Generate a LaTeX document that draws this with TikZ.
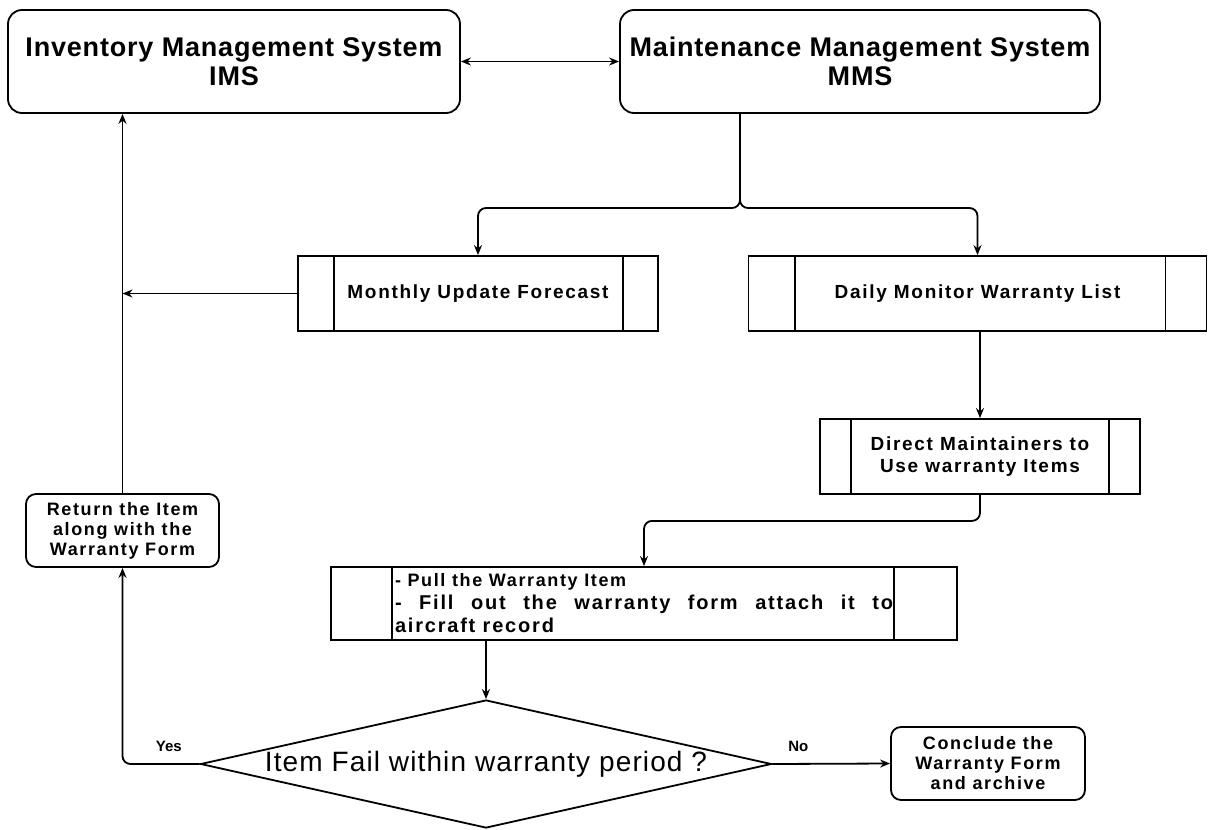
\documentclass[tikz,border=0pt]{standalone}
\usepackage{fontspec}
\setmainfont{Liberation Sans}
\newfontfamily\titlefont[LetterSpace=3]{Liberation Sans}
\newfontfamily\boxfont[LetterSpace=9]{Liberation Sans}
\newfontfamily\askfont[LetterSpace=4]{Liberation Sans}
\usetikzlibrary{shapes.geometric,arrows.meta}

% the two inner bars of a process box
\newcommand{\sidebars}[3]{%
  \draw ([xshift=#2]#1.north west) -- ([xshift=#2]#1.south west);
  \draw ([xshift=-#3]#1.north east) -- ([xshift=-#3]#1.south east);
}

\begin{document}
\begin{tikzpicture}[x=1pt,y=-1pt,line width=1.8pt,
    sysbox/.style={draw,rounded corners=14pt,minimum height=103pt,inner sep=0pt,align=center,
      font=\titlefont\fontsize{27}{29}\selectfont\bfseries},
    procbox/.style={draw,minimum height=75pt,inner sep=0pt,align=center,
      font=\boxfont\fontsize{19}{22}\selectfont\bfseries},
    termbox/.style={draw,rounded corners=10pt,minimum width=194pt,minimum height=73pt,inner sep=0pt,align=center,
      font=\boxfont\fontsize{18}{20}\selectfont\bfseries},
    decision/.style={draw,diamond,aspect=4.46,inner sep=0pt,
      font=\askfont\fontsize{28}{30}\selectfont},
    flow/.style={-{Stealth[length=10pt,width=8pt]}},
    both/.style={{Stealth[length=10pt,width=8pt]}-{Stealth[length=10pt,width=8pt]}},
    lbl/.style={font=\bfseries\fontsize{15}{18}\selectfont}]
  \useasboundingbox (0,0) rectangle (1208,830);

  \node[sysbox,minimum width=452pt] (ims) at (234,61.5) {Inventory Management System\\IMS};
  \node[sysbox,minimum width=480pt] (mms) at (860,61.5) {Maintenance Management System\\MMS};
  \node[procbox,minimum width=360pt] (monthly) at (478,293.5) {Monthly Update Forecast};
  \node[procbox,minimum width=458pt] (daily) at (977.5,293.5) {Daily Monitor Warranty List};
  \node[procbox,minimum width=320pt] (direct) at (980,456.5) {Direct Maintainers to\\Use warranty Items};
  \node[procbox,minimum width=626pt,minimum height=73pt,align=justify,text width=498pt,
    font=\boxfont\fontsize{20}{23}\selectfont\bfseries] (pull) at (644,603.5)
    {{\fontsize{18}{23}\selectfont - Pull the Warranty Item\par}
     - Fill out the warranty form attach it to\linebreak aircraft record};
  \node[termbox,minimum width=193pt] (ret) at (122.5,530.5) {Return the Item\\along with the\\Warranty Form};
  \node[decision,minimum width=571pt,minimum height=128pt] (ask) at (486,764) {Item Fail within warranty period ?};
  \node[termbox] (conc) at (988,763.5) {Conclude the\\Warranty Form\\and archive};

  \sidebars{monthly}{37}{36}
  \sidebars{daily}{47}{42}
  \sidebars{direct}{32}{32}
  \sidebars{pull}{62}{64}

  \coordinate (split) at (740,208);

  \draw[both] (ims.east) -- (mms.west);
  \draw[flow,rounded corners=8pt] (mms.south -| split) -- (split) -| (monthly.north);
  \draw[flow,rounded corners=8pt] (mms.south -| split) -- (split) -| (daily.north);
  \draw[flow] (monthly.west) -- (monthly.west -| ret.north);
  \draw[flow] (daily.south -| direct.north) -- (direct.north);
  \draw[flow,rounded corners=8pt] (direct.south) -- ++(0,26) -| (pull.north);
  \draw[flow] (pull.south -| ask.north) -- (ask.north);
  \draw[flow,rounded corners=8pt] (ask.west) -| (ret.south) node[lbl,pos=0.2,above=8pt] {Yes};
  \draw[flow] (ask.east) -- (conc.west) node[lbl,pos=0.22,above=8pt] {No};
  \draw[flow] (ret.north) -- (ims.south -| ret.north);
\end{tikzpicture}
\end{document}
